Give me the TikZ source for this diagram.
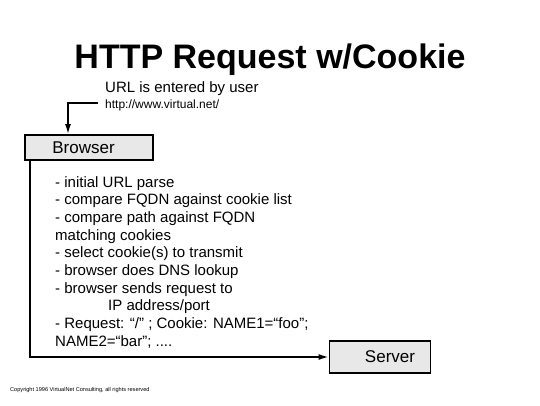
\documentclass[tikz,border=0pt]{standalone}
\usepackage{fontspec}
\setmainfont{Liberation Sans}
\usepackage{tikz}
\usetikzlibrary{arrows.meta,positioning}
\definecolor{boxgray}{RGB}{232,232,232}

\begin{document}
\begin{tikzpicture}[x=1pt, y=-1pt,
  every node/.style={font=\fontsize{15}{17.7}\selectfont, inner sep=0pt},
  headline/.style={font=\fontsize{34}{40}\selectfont\bfseries},
  hostbox/.style={draw, line width=1.8pt, fill=boxgray,
                  font=\fontsize{17}{20}\selectfont},
  flow/.style={line width=1.6pt, -{Latex[length=10pt,width=6pt]}}
]
\useasboundingbox (0,0) rectangle (540,405);
\node[headline, anchor=base] (title) at (270,68) {HTTP Request w/Cookie};
\node[anchor=base west] (urlnote) at (105,92) {URL is entered by user};
\node[anchor=base west, font=\fontsize{12}{14}\selectfont] (urltext) at (105,108)
  {http://www.virtual.net/};
\node[hostbox, minimum width=128pt, minimum height=25pt] (browser) at (89,147.5)
  {Browser\hspace*{11pt}};
\node[hostbox, minimum width=101pt, minimum height=32pt] (server) at (380,357)
  {\hspace*{20pt}Server};
\node[anchor=north west, align=left] (steps) at (55,176) {%
  - initial URL parse\\
  - compare FQDN against cookie list\\
  - compare path against FQDN\\
  matching cookies\\
  - select cookie(s) to transmit\\
  - browser does DNS lookup\\
  - browser sends request to\\
  \hspace*{53pt}IP address/port\\
  - Request: “/” ; Cookie: NAME1=“foo”;\\
  NAME2=“bar”; ....};
\node[anchor=west, font=\fontsize{5.6}{6}\selectfont] (copy) at (10,390)
  {Copyright 1996 VirtualNet Consulting, all rights reserved};
\coordinate (entry) at (98,103);
\draw[flow] (entry) -| ([xshift=-21pt]browser.north);
\draw[flow] ([xshift=6pt]browser.south west) |- (server.west);
\end{tikzpicture}
\end{document}
